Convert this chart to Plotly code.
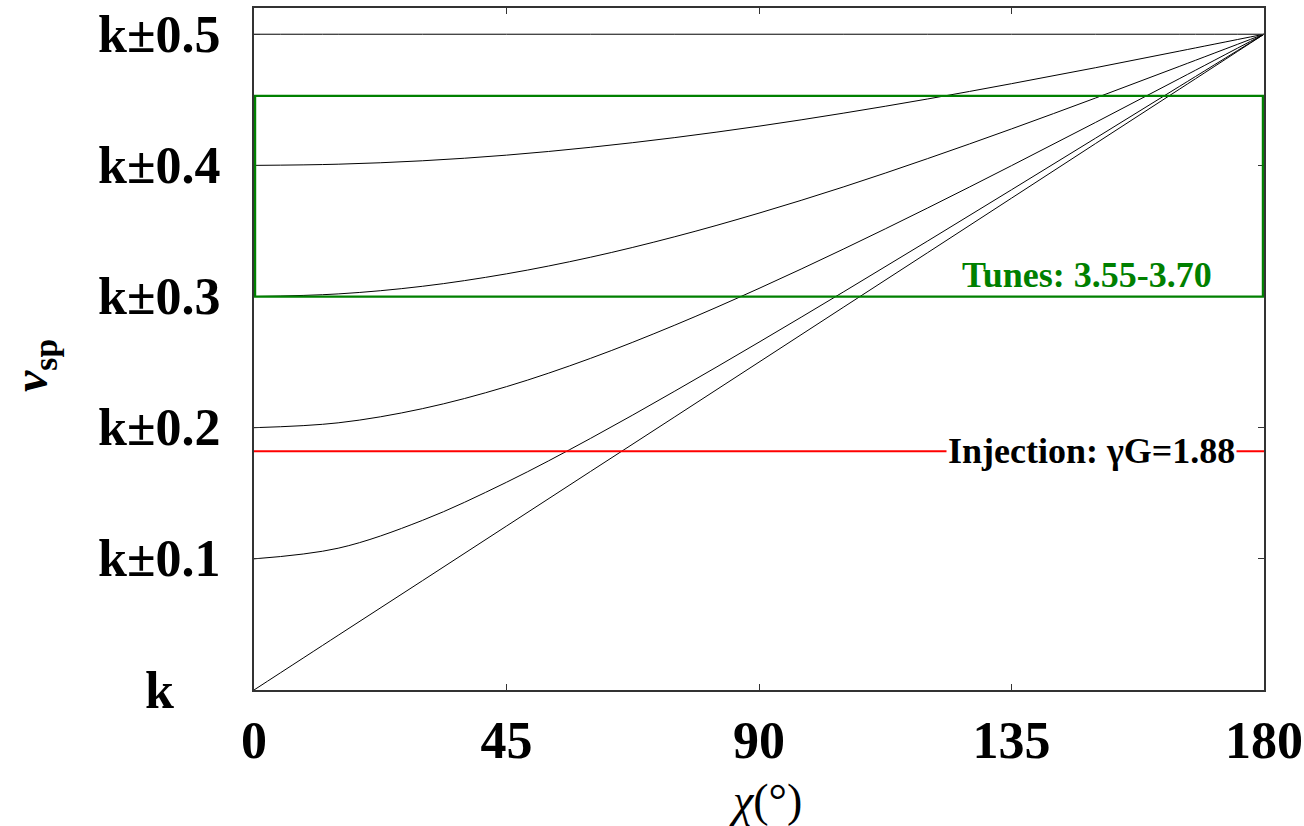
import plotly.graph_objects as go

# Snake angle chi (degrees)
chi = [0, 15, 30, 45, 60, 75, 90, 105, 120, 135, 150, 165, 180]

# Spin tune (fractional part) vs chi, one curve per starting tune
nu_00 = [0.0, 0.0417, 0.0833, 0.125, 0.1667, 0.2083, 0.25, 0.2917, 0.3333, 0.375, 0.4167, 0.4583, 0.5]
nu_01 = [0.1, 0.1081, 0.1293, 0.1584, 0.1919, 0.2279, 0.2652, 0.3034, 0.3422, 0.3814, 0.4208, 0.4604, 0.5]
nu_02 = [0.2, 0.2037, 0.2145, 0.2313, 0.2529, 0.2782, 0.3062, 0.3361, 0.3674, 0.3998, 0.4328, 0.4663, 0.5]
nu_03 = [0.3, 0.3020, 0.3078, 0.3173, 0.3300, 0.3456, 0.3636, 0.3835, 0.4051, 0.4278, 0.4514, 0.4756, 0.5]
nu_04 = [0.4, 0.4009, 0.4035, 0.4078, 0.4138, 0.4212, 0.4299, 0.4398, 0.4506, 0.4623, 0.4745, 0.4872, 0.5]
nu_05 = [0.5] * len(chi)

curves = [nu_00, nu_01, nu_02, nu_03, nu_04, nu_05]

# Tune window and injection level
tune_lo, tune_hi = 0.30, 0.453
injection_nu = 0.182

x_ticks = [0, 45, 90, 135, 180]
y_ticks = [0.0, 0.1, 0.2, 0.3, 0.4, 0.5]
y_tick_text = ["k", "k±0.1", "k±0.2", "k±0.3", "k±0.4", "k±0.5"]

FONT = "Liberation Serif"

# plot area in pixels
L, R, T, B = 254, 1264, 8, 690
PW, PH = R - L, B - T


def px_x(p):
    return (p - L) / PW


def px_y(p):
    return (B - p) / PH


fig = go.Figure()
for nu in curves:
    fig.add_trace(go.Scatter(x=chi, y=nu, mode="lines",
                             line=dict(color="black", width=1, shape="spline", smoothing=1),
                             showlegend=False, hoverinfo="skip"))

# Injection line
fig.add_shape(type="line", xref="x", yref="y", x0=0, x1=180,
              y0=injection_nu, y1=injection_nu,
              line=dict(color="#ff0000", width=2), layer="above")
# Working tune window
fig.add_shape(type="rect", xref="x", yref="y", x0=0.2, x1=179.8,
              y0=tune_lo, y1=tune_hi,
              line=dict(color="#008000", width=2.2), layer="above")

annotations = []
# y tick labels, centred in the left margin
for v, t in zip(y_ticks, y_tick_text):
    annotations.append(dict(text=f"<b>{t}</b>", x=px_x(159), xref="paper", y=v, yref="y",
                            xanchor="center", yanchor="middle", showarrow=False,
                            font=dict(family=FONT, size=52, color="black")))

annotations.append(dict(text="<b>Tunes: 3.55-3.70</b>", x=px_x(1087), xref="paper",
                        y=px_y(275), yref="paper", xanchor="center", yanchor="middle",
                        showarrow=False, font=dict(family=FONT, size=36, color="#008000")))

annotations.append(dict(text="<b>Injection: γG=1.88</b>", x=px_x(1091), xref="paper",
                        y=injection_nu, yref="y", xanchor="center", yanchor="middle",
                        showarrow=False, bgcolor="white", borderpad=1,
                        font=dict(family=FONT, size=36, color="black")))

# Axis titles
annotations.append(dict(text="<i>χ</i>(°)", x=px_x(765), xref="paper",
                        y=px_y(800), yref="paper", xanchor="center", yanchor="middle",
                        showarrow=False, font=dict(family=FONT, size=46, color="black")))
annotations.append(dict(text="<b><i>ν</i><sub>sp</sub></b>", x=px_x(34), xref="paper",
                        y=px_y(366), yref="paper", xanchor="center", yanchor="middle",
                        textangle=-90, showarrow=False,
                        font=dict(family=FONT, size=48, color="black")))

fig.update_layout(
    width=1304, height=826,
    margin=dict(l=L, r=1304 - R, t=T, b=826 - B, autoexpand=False),
    paper_bgcolor="white", plot_bgcolor="white",
    font=dict(family=FONT, color="black"),
    annotations=annotations,
    showlegend=False,
)
fig.update_xaxes(range=[0, 180], tickvals=x_ticks, ticktext=[f"<b>{v}</b>" for v in x_ticks],
                 tickfont=dict(family=FONT, size=52, color="black"),
                 ticks="inside", ticklen=6, tickcolor="#333", mirror="ticks",
                 showline=True, linecolor="#333", linewidth=1.5, automargin=False,
                 showgrid=False, zeroline=False, ticklabelstandoff=4)
fig.update_yaxes(range=[0, 0.52], tickvals=y_ticks, showticklabels=False,
                 ticks="inside", ticklen=6, tickcolor="#333", mirror="ticks",
                 showline=True, linecolor="#333", linewidth=1.5, automargin=False,
                 showgrid=False, zeroline=False)

fig.write_html("out.html")
